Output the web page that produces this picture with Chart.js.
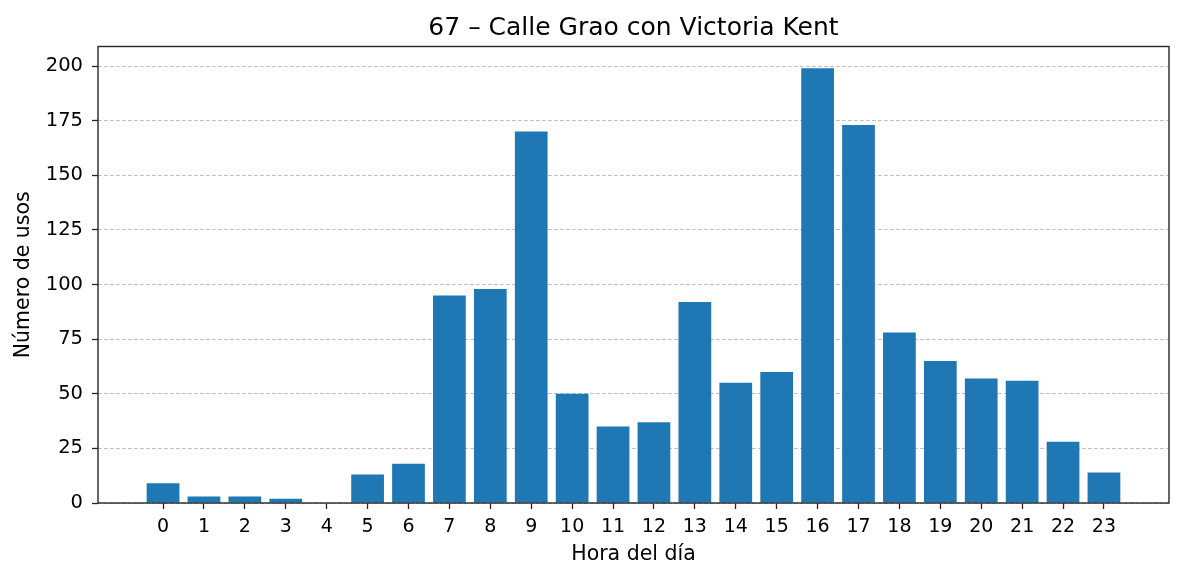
<!DOCTYPE html>
<html>
<head>
<meta charset="utf-8">
<script src="https://cdn.jsdelivr.net/npm/chart.js@4"></script>
<style>
  html, body { margin: 0; padding: 0; background: #fff; }
  #wrap { width: 1184px; height: 581px; }
</style>
</head>
<body>
<div id="wrap"><canvas id="chart" width="1184" height="581"></canvas></div>
<script>
// hourly usage, station 67
const hours = [0, 1, 2, 3, 4, 5, 6, 7, 8, 9, 10, 11, 12, 13, 14, 15, 16, 17, 18, 19, 20, 21, 22, 23];
const usos = [9, 3, 3, 2, 0, 13, 18, 95, 98, 170, 50, 35, 37, 92, 55, 60, 199, 173, 78, 65, 57, 56, 28, 14];
const yTicks = [0, 25, 50, 75, 100, 125, 150, 175, 200];
const titulo = '67 – Calle Grao con Victoria Kent';

const FONT = "'DejaVu Sans', sans-serif";
const INK = '#262626';

// matplotlib-style box around the plot area + title centred over the axes
const boxPlugin = {
  id: 'box',
  afterDatasetsDraw(chart) {
    const { ctx, chartArea: a } = chart;
    ctx.save();
    ctx.strokeStyle = INK;
    ctx.lineWidth = 1.4;
    ctx.strokeRect(a.left, a.top, a.right - a.left, a.bottom - a.top);
    ctx.fillStyle = '#000';
    ctx.font = '25px ' + FONT;
    ctx.textAlign = 'center';
    ctx.textBaseline = 'alphabetic';
    ctx.fillText(titulo, (a.left + a.right) / 2, 35);
    ctx.restore();
  }
};

new Chart(document.getElementById('chart'), {
  type: 'bar',
  data: {
    datasets: [{
      data: hours.map((h, i) => ({ x: h, y: usos[i] })),
      backgroundColor: '#1f77b4',
      borderWidth: 0,
      barPercentage: 0.8,
      categoryPercentage: 1.0
    }]
  },
  options: {
    responsive: false,
    animation: false,
    layout: { padding: { right: 15, top: 46.5, left: 0, bottom: 0 } },
    plugins: {
      legend: { display: false },
      tooltip: { enabled: false },
      title: { display: false }
    },
    scales: {
      x: {
        type: 'linear',
        offset: false,
        min: -1.59,
        max: 24.59,
        afterBuildTicks: (s) => { s.ticks = hours.map(v => ({ value: v })); },
        afterFit: (s) => { s.height = 78; },
        ticks: {
          color: '#000',
          font: { family: FONT, size: 19 },
          padding: 7,
          maxRotation: 0,
          autoSkip: false,
          callback: (v) => String(v)
        },
        grid: {
          offset: false,
          drawOnChartArea: false,
          drawTicks: true,
          tickLength: 6,
          tickColor: INK,
          tickWidth: 1.3
        },
        border: { display: false },
        title: {
          display: true,
          text: 'Hora del día',
          color: '#000',
          font: { family: FONT, size: 20.5 },
          padding: { top: 0, bottom: 14.5 }
        }
      },
      y: {
        min: 0,
        max: 208.95,
        afterBuildTicks: (s) => { s.ticks = yTicks.map(v => ({ value: v })); },
        afterFit: (s) => { s.width = 98; },
        ticks: {
          color: '#000',
          font: { family: FONT, size: 19.5 },
          padding: 9
        },
        grid: {
          color: '#b0b0b0',
          lineWidth: 0.8,
          drawTicks: true,
          tickLength: 6,
          tickColor: INK,
          tickWidth: 1.3,
          tickBorderDash: []
        },
        border: { display: false, dash: [3.8, 2.2] },
        title: {
          display: true,
          text: 'Número de usos',
          color: '#000',
          font: { family: FONT, size: 20.5 },
          padding: { top: 11.5, bottom: 0 }
        }
      }
    }
  },
  plugins: [boxPlugin]
});
</script>
</body>
</html>
